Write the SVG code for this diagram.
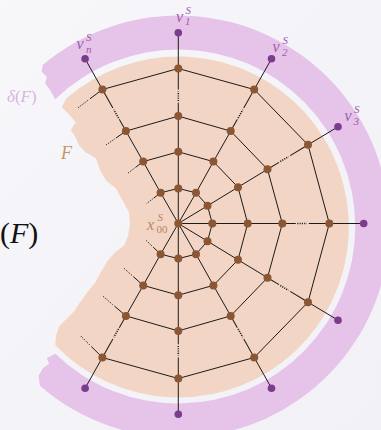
<svg xmlns="http://www.w3.org/2000/svg" xmlns:xlink="http://www.w3.org/1999/xlink" width="381" height="430" viewBox="0 0 381 430">
<defs>
<linearGradient id="bg" x1="0" y1="0" x2="1" y2="1">
<stop offset="0" stop-color="#f8f8fb"/>
<stop offset="0.5" stop-color="#f3f3f8"/>
<stop offset="1" stop-color="#f1f1f6"/>
</linearGradient>
<g id="brk">
<line x1="0" y1="0" x2="13.5" y2="0"/>
<line class="dot" x1="15" y1="0" x2="24.5" y2="0"/>
<line x1="26.5" y1="0" x2="48" y2="0"/>
</g>
</defs>
<style>
.e line, .e polyline, .e use { stroke:#1b1b1b; stroke-width:1; fill:none; }
.dot { stroke-dasharray:1.1 1.2; stroke-width:1.6; }
.n { fill:#8a5634; }
.v { fill:#7b3c8c; }
.lab { font-family:"Liberation Serif","DejaVu Serif",serif; font-style:italic; fill:#9e5cb0; }
</style>
<rect x="0" y="0" width="381" height="430" fill="url(#bg)"/>
<text x="0" y="243" font-family="Liberation Serif, DejaVu Serif, serif" font-size="30" fill="#111">(<tspan font-style="italic">F</tspan>)</text>
<path id="deltaF-band" fill="#e6c3e8" d="M42.7,64.9 A211,211 0 1 1 39.9,385.7 L38.5,376 L43,368 L49,364 L47,358 L55.3,353.8 A177,177 0 1 0 55.3,99.2 L50,90 L45,83 L47,77 L41.7,71.7 Z"/>
<path id="F-region" fill="#f2d5c4" stroke="#f2d5c4" stroke-width="2" stroke-linejoin="round" d="M67.1,99.1 A169.5,169.5 0 1 1 56.4,344.7 L57,336 L60,327 L67,320 L75,312 L80,304 L88,293 L96,283 L101,274 L108,262 L116,253 L125,246 L129,236 L131,224 L130,212 L124,201 L117,188 L107,180 L101,170 L97,158 L87,152 L80,145 L76,136 L72,130 L77,122 L70,114 L63,107 Z"/>
<text x="7" y="102" font-family="Liberation Serif, DejaVu Serif, serif" font-size="17" fill="#d7b6de"><tspan font-style="italic">δ</tspan>(<tspan font-style="italic">F</tspan>)</text>
<text x="61" y="159" font-family="Liberation Serif, DejaVu Serif, serif" font-style="italic" font-size="18" fill="#c99463">F</text>
<g id="connectors" class="e">
<polyline points="178.3,223.5 178.3,188.4 178.3,151.8 178.3,116.1"/>
<polyline points="178.3,223.5 196,192.8 213.4,161.6 230.7,131.1"/>
<polyline points="178.3,223.5 207.5,205.8 238,187.2 267.5,169.3"/>
<polyline points="178.3,223.5 212.3,223.5 247.7,223.5 282.3,223.5"/>
<polyline points="178.3,223.5 207.5,241.2 238,259.8 267.5,277.7"/>
<polyline points="178.3,223.5 196,254.2 213.4,285.4 230.7,315.9"/>
<polyline points="178.3,223.5 178.3,258.6 178.3,295.2 178.3,330.9"/>
<polyline points="178.3,223.5 160.6,254.2 143.2,285.4 125.9,315.9"/>
<polyline points="178.3,223.5 160.6,192.8 143.2,161.6 125.9,131.1"/>
<use xlink:href="#brk" href="#brk" transform="translate(178.3,116.1) rotate(-90)"/>
<use xlink:href="#brk" href="#brk" transform="translate(230.7,131.1) rotate(-60.54)"/>
<use xlink:href="#brk" href="#brk" transform="translate(267.5,169.3) rotate(-31.17)"/>
<use xlink:href="#brk" href="#brk" transform="translate(282.3,223.5)"/>
<use xlink:href="#brk" href="#brk" transform="translate(267.5,277.7) rotate(31.17)"/>
<use xlink:href="#brk" href="#brk" transform="translate(230.7,315.9) rotate(60.54)"/>
<use xlink:href="#brk" href="#brk" transform="translate(178.3,330.9) rotate(90)"/>
<use xlink:href="#brk" href="#brk" transform="translate(125.9,315.9) rotate(119.46)"/>
<use xlink:href="#brk" href="#brk" transform="translate(125.9,131.1) rotate(-119.46)"/>
<line x1="178.3" y1="68.5" x2="178.3" y2="32.8"/>
<line x1="254.2" y1="89.5" x2="271.5" y2="58.8"/>
<line x1="308" y1="144.8" x2="338" y2="126.8"/>
<line x1="329.3" y1="223.5" x2="363.7" y2="223.5"/>
<line x1="308" y1="302.2" x2="338" y2="320.2"/>
<line x1="254.2" y1="357.5" x2="271.5" y2="388.2"/>
<line x1="178.3" y1="378.5" x2="178.3" y2="414.2"/>
<line x1="102.4" y1="357.5" x2="85.1" y2="388.2"/>
<line x1="102.4" y1="89.5" x2="85.1" y2="58.8"/>
<polyline points="160.6,192.8 178.3,188.4 196,192.8 207.5,205.8 212.3,223.5 207.5,241.2 196,254.2 178.3,258.6 160.6,254.2"/>
<polyline points="143.2,161.6 178.3,151.8 213.4,161.6 238,187.2 247.7,223.5 238,259.8 213.4,285.4 178.3,295.2 143.2,285.4"/>
<polyline points="125.9,131.1 178.3,116.1 230.7,131.1 267.5,169.3 282.3,223.5 267.5,277.7 230.7,315.9 178.3,330.9 125.9,315.9"/>
<polyline points="102.4,89.5 178.3,68.5 254.2,89.5 308,144.8 329.3,223.5 308,302.2 254.2,357.5 178.3,378.5 102.4,357.5"/>
<line x1="160.6" y1="192.8" x2="153.65" y2="198.15"/>
<line class="dot" x1="152.68" y1="198.9" x2="146.7" y2="203.5"/>
<line x1="143.2" y1="161.6" x2="135.45" y2="167.45"/>
<line class="dot" x1="134.4" y1="168.3" x2="127.7" y2="173.3"/>
<line x1="125.9" y1="131.1" x2="115.95" y2="138.05"/>
<line class="dot" x1="114.56" y1="139.02" x2="106" y2="145"/>
<line x1="102.4" y1="89.5" x2="89.85" y2="98.9"/>
<line class="dot" x1="88.1" y1="100.2" x2="77.3" y2="108.3"/>
<line x1="160.6" y1="254.2" x2="153.15" y2="247.1"/>
<line class="dot" x1="152.1" y1="246.1" x2="145.7" y2="240"/>
<line x1="143.2" y1="285.4" x2="133.25" y2="276.55"/>
<line class="dot" x1="131.86" y1="275.31" x2="123.3" y2="267.7"/>
<line x1="125.9" y1="315.9" x2="114.3" y2="305.95"/>
<line class="dot" x1="112.68" y1="304.56" x2="102.7" y2="296"/>
<line x1="102.4" y1="357.5" x2="91.2" y2="346.4"/>
<line class="dot" x1="89.63" y1="344.85" x2="80" y2="335.3"/>
</g>
<g id="x00"><circle class="n" cx="178.3" cy="223.5" r="4"/>
<text x="147" y="229.5" font-family="Liberation Serif, DejaVu Serif, serif" font-style="italic" font-size="16" fill="#b98763">x</text>
<text x="157.5" y="221" font-family="Liberation Serif, DejaVu Serif, serif" font-style="italic" font-size="11" fill="#b98763">S</text>
<text x="156.5" y="233" font-family="Liberation Serif, DejaVu Serif, serif" font-size="11" fill="#b98763">00</text></g>
<g id="n90-1"><circle class="n" cx="178.3" cy="188.4" r="4"/></g>
<g id="n90-2"><circle class="n" cx="178.3" cy="151.8" r="4"/></g>
<g id="n90-3"><circle class="n" cx="178.3" cy="116.1" r="4"/></g>
<g id="n90-4"><circle class="n" cx="178.3" cy="68.5" r="4"/></g>
<g id="n60-1"><circle class="n" cx="196" cy="192.8" r="4"/></g>
<g id="n60-2"><circle class="n" cx="213.4" cy="161.6" r="4"/></g>
<g id="n60-3"><circle class="n" cx="230.7" cy="131.1" r="4"/></g>
<g id="n60-4"><circle class="n" cx="254.2" cy="89.5" r="4"/></g>
<g id="n30-1"><circle class="n" cx="207.5" cy="205.8" r="4"/></g>
<g id="n30-2"><circle class="n" cx="238" cy="187.2" r="4"/></g>
<g id="n30-3"><circle class="n" cx="267.5" cy="169.3" r="4"/></g>
<g id="n30-4"><circle class="n" cx="308" cy="144.8" r="4"/></g>
<g id="n0-1"><circle class="n" cx="212.3" cy="223.5" r="4"/></g>
<g id="n0-2"><circle class="n" cx="247.7" cy="223.5" r="4"/></g>
<g id="n0-3"><circle class="n" cx="282.3" cy="223.5" r="4"/></g>
<g id="n0-4"><circle class="n" cx="329.3" cy="223.5" r="4"/></g>
<g id="nm30-1"><circle class="n" cx="207.5" cy="241.2" r="4"/></g>
<g id="nm30-2"><circle class="n" cx="238" cy="259.8" r="4"/></g>
<g id="nm30-3"><circle class="n" cx="267.5" cy="277.7" r="4"/></g>
<g id="nm30-4"><circle class="n" cx="308" cy="302.2" r="4"/></g>
<g id="nm60-1"><circle class="n" cx="196" cy="254.2" r="4"/></g>
<g id="nm60-2"><circle class="n" cx="213.4" cy="285.4" r="4"/></g>
<g id="nm60-3"><circle class="n" cx="230.7" cy="315.9" r="4"/></g>
<g id="nm60-4"><circle class="n" cx="254.2" cy="357.5" r="4"/></g>
<g id="nm90-1"><circle class="n" cx="178.3" cy="258.6" r="4"/></g>
<g id="nm90-2"><circle class="n" cx="178.3" cy="295.2" r="4"/></g>
<g id="nm90-3"><circle class="n" cx="178.3" cy="330.9" r="4"/></g>
<g id="nm90-4"><circle class="n" cx="178.3" cy="378.5" r="4"/></g>
<g id="nm120-1"><circle class="n" cx="160.6" cy="254.2" r="4"/></g>
<g id="nm120-2"><circle class="n" cx="143.2" cy="285.4" r="4"/></g>
<g id="nm120-3"><circle class="n" cx="125.9" cy="315.9" r="4"/></g>
<g id="nm120-4"><circle class="n" cx="102.4" cy="357.5" r="4"/></g>
<g id="n120-1"><circle class="n" cx="160.6" cy="192.8" r="4"/></g>
<g id="n120-2"><circle class="n" cx="143.2" cy="161.6" r="4"/></g>
<g id="n120-3"><circle class="n" cx="125.9" cy="131.1" r="4"/></g>
<g id="n120-4"><circle class="n" cx="102.4" cy="89.5" r="4"/></g>
<g id="v1"><circle class="v" cx="178.3" cy="32.8" r="3.8"/>
<text class="lab" x="176" y="21.5" font-size="16">v</text><text class="lab" x="185.5" y="13.5" font-size="11">S</text><text class="lab" x="185" y="25" font-size="11" font-style="normal">1</text></g>
<g id="v2"><circle class="v" cx="271.5" cy="58.8" r="3.8"/>
<text class="lab" x="272.5" y="52" font-size="16">v</text><text class="lab" x="282.5" y="44" font-size="11">S</text><text class="lab" x="282" y="56" font-size="11" font-style="normal">2</text></g>
<g id="v3"><circle class="v" cx="338" cy="126.8" r="3.8"/>
<text class="lab" x="344.5" y="120.5" font-size="16">v</text><text class="lab" x="354" y="112.5" font-size="11">S</text><text class="lab" x="353.5" y="124.5" font-size="11" font-style="normal">3</text></g>
<g id="v0"><circle class="v" cx="363.7" cy="223.5" r="3.8"/></g>
<g id="vm30"><circle class="v" cx="338" cy="320.2" r="3.8"/></g>
<g id="vm60"><circle class="v" cx="271.5" cy="388.2" r="3.8"/></g>
<g id="vm90"><circle class="v" cx="178.3" cy="414.2" r="3.8"/></g>
<g id="vm120"><circle class="v" cx="85.1" cy="388.2" r="3.8"/></g>
<g id="vn"><circle class="v" cx="85.1" cy="58.8" r="3.8"/>
<text class="lab" x="76.5" y="48.5" font-size="16">v</text><text class="lab" x="86" y="40.5" font-size="11">S</text><text class="lab" x="86" y="52.5" font-size="11">n</text></g>
</svg>
